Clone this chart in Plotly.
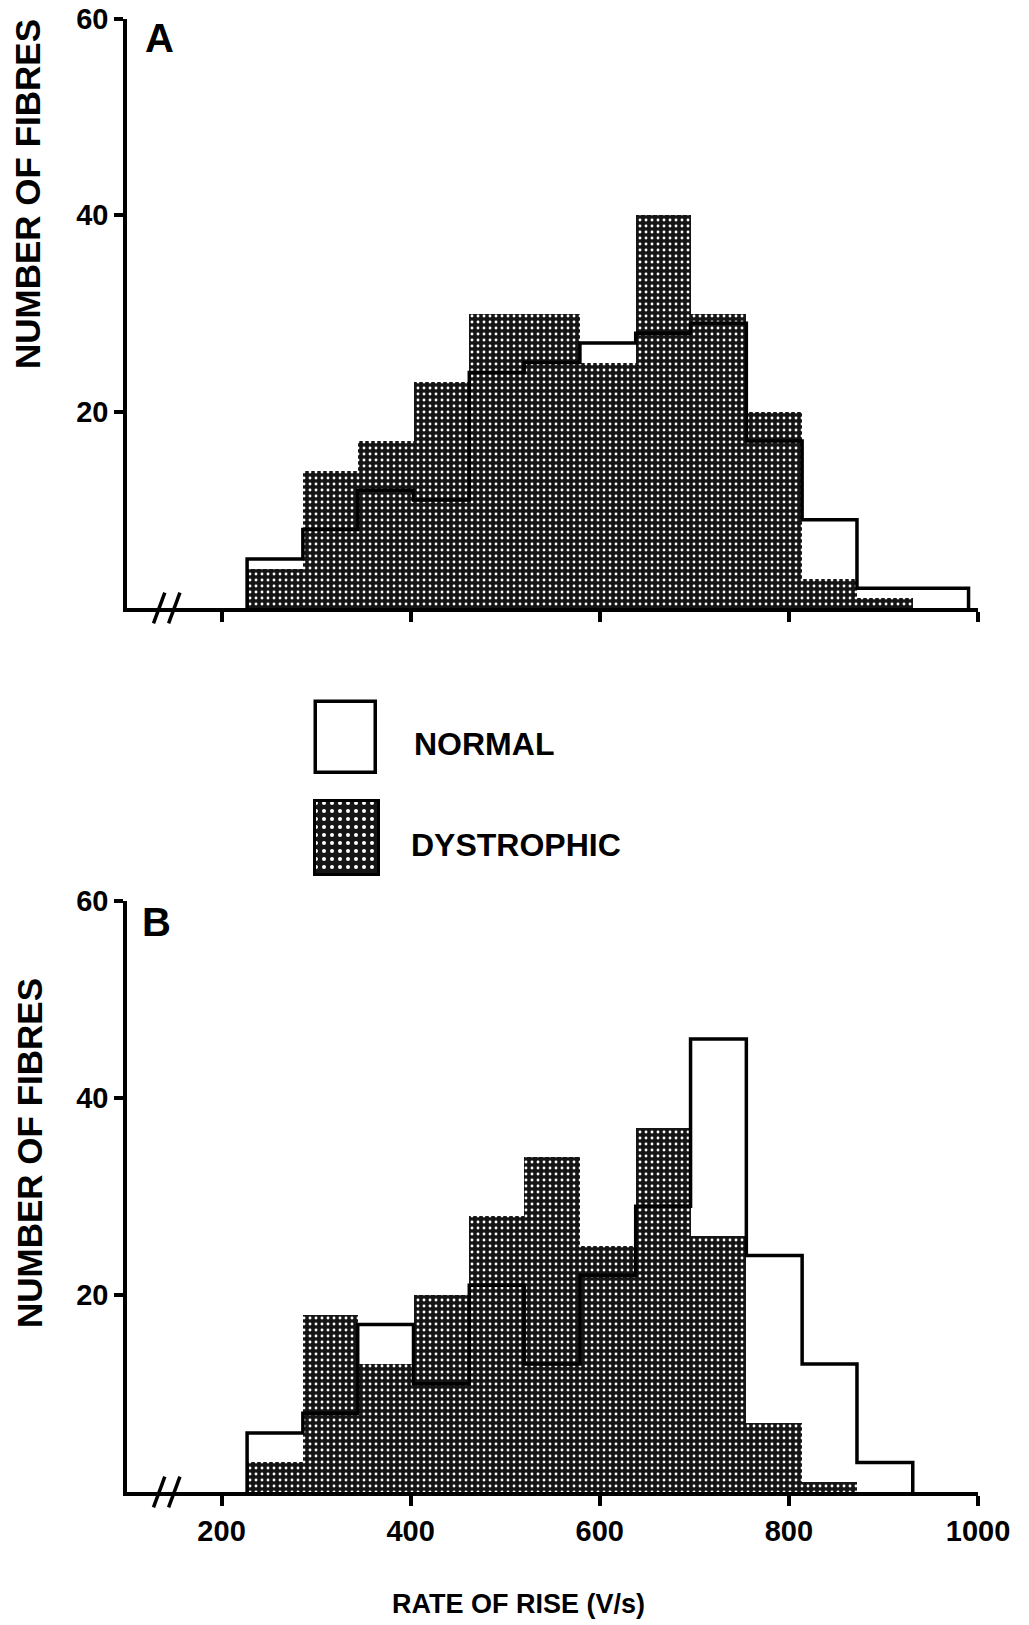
import plotly.graph_objects as go

# ---------------- data ----------------
bin_edges = [227, 286, 344, 403, 462, 520, 579, 638, 696, 755, 814, 872, 931, 990]

a_normal = [5, 8, 12, 11, 24, 25, 27, 28, 29, 17, 9, 2, 2]
a_dystrophic = [4, 14, 17, 23, 30, 30, 25, 40, 30, 20, 3, 1, 0]

b_normal = [6, 8, 17, 11, 21, 13, 22, 29, 46, 24, 13, 3]
b_dystrophic = [3, 18, 13, 20, 28, 34, 25, 37, 26, 7, 1]

x_ticks = [200, 400, 600, 800, 1000]
y_ticks = [20, 40, 60]

# ---------------- layout helpers ----------------
W, H = 1029, 1625
FONT = "Liberation Sans, Arial, sans-serif"


def px(x):
    return x / W


def py(y):
    return 1 - y / H


def step_xy(edges, counts):
    xs, ys = [edges[0]], [0]
    for i, c in enumerate(counts):
        xs += [edges[i], edges[i + 1]]
        ys += [c, c]
    xs.append(edges[len(counts)])
    ys.append(0)
    return xs, ys


def bar_geom(edges, counts):
    centers = [(edges[i] + edges[i + 1]) / 2 for i in range(len(counts))]
    widths = [edges[i + 1] - edges[i] for i in range(len(counts))]
    return centers, widths


pattern = dict(shape=".", fillmode="replace", bgcolor="#151515",
               fgcolor="#ffffff", size=6, solidity=0.18)

fig = go.Figure()

panels = [("x", "y", a_normal, a_dystrophic), ("x2", "y2", b_normal, b_dystrophic)]
for xa, ya, norm, dys in panels:
    cx, wd = bar_geom(bin_edges, dys)
    fig.add_trace(go.Bar(x=cx, y=dys, width=wd, xaxis=xa, yaxis=ya,
                         marker=dict(color="#151515", pattern=pattern,
                                     line=dict(width=0)),
                         showlegend=False, hoverinfo="skip"))
    sx, sy = step_xy(bin_edges, norm)
    fig.add_trace(go.Scatter(x=sx, y=sy, xaxis=xa, yaxis=ya, mode="lines",
                             line=dict(color="black", width=3.5),
                             showlegend=False, hoverinfo="skip"))

# legend keys
fig.add_trace(go.Bar(x=[0], y=[1], width=[1], xaxis="x3", yaxis="y3",
                     marker=dict(color="white", line=dict(color="black", width=3.5)),
                     showlegend=False, hoverinfo="skip"))
fig.add_trace(go.Bar(x=[0], y=[1], width=[1], xaxis="x4", yaxis="y4",
                     marker=dict(color="#151515",
                                 pattern=dict(shape=".", fillmode="replace",
                                              bgcolor="#151515", fgcolor="white",
                                              size=8, solidity=0.2),
                                 line=dict(color="black", width=3)),
                     showlegend=False, hoverinfo="skip"))

xdom = [px(127), px(978)]
tickfont = dict(family=FONT, size=29, color="black", weight="bold")
axis_common = dict(showline=True, linecolor="black", linewidth=3.5,
                   ticks="outside", tickcolor="black", tickwidth=3.5,
                   showgrid=False, zeroline=False, automargin=False)

fig.update_layout(
    width=W, height=H, margin=dict(l=0, r=0, t=0, b=0, pad=0, autoexpand=False),
    paper_bgcolor="white", plot_bgcolor="white",
    bargap=0, barmode="overlay", showlegend=False,
    xaxis=dict(domain=xdom, range=[100, 1000], tickvals=x_ticks,
               showticklabels=False, ticklen=10, anchor="y", **axis_common),
    yaxis=dict(domain=[py(608), py(19)], range=[0, 60], tickvals=y_ticks,
               ticklen=9, tickfont=tickfont, anchor="x", **axis_common),
    xaxis2=dict(domain=xdom, range=[100, 1000], tickvals=x_ticks,
                ticklen=10, tickfont=tickfont, anchor="y2", **axis_common),
    yaxis2=dict(domain=[py(1492), py(901)], range=[0, 60], tickvals=y_ticks,
                ticklen=9, tickfont=tickfont, anchor="x2", **axis_common),
    xaxis3=dict(domain=[px(312), px(380)], range=[-0.56, 0.56], visible=False,
                anchor="y3"),
    yaxis3=dict(domain=[py(776), py(699)], range=[-0.04, 1.04], visible=False,
                anchor="x3"),
    xaxis4=dict(domain=[px(312), px(382)], range=[-0.54, 0.54], visible=False,
                anchor="y4"),
    yaxis4=dict(domain=[py(877), py(799)], range=[-0.03, 1.03], visible=False,
                anchor="x4"),
)

# axis break marks
shapes = []
for yr in ["y domain", "y2 domain"]:
    xr = "x" if yr.startswith("y ") else "x2"
    for x0 in (128, 144):
        shapes.append(dict(type="line", xref=xr, yref=yr,
                           x0=x0, x1=x0 + 12, y0=-0.026, y1=0.026,
                           line=dict(color="black", width=3.5)))
fig.update_layout(shapes=shapes)

big = dict(family=FONT, size=40, color="black", weight="bold")
lab = dict(family=FONT, size=32, color="black", weight="bold")
ytitle = dict(family=FONT, size=35, color="black", weight="bold")
annots = [
    dict(text="A", x=px(159), y=py(38), font=big),
    dict(text="B", x=px(156), y=py(922), font=big),
    dict(text="NUMBER OF FIBRES", x=px(27), y=py(194), textangle=-90, font=ytitle),
    dict(text="NUMBER OF FIBRES", x=px(29), y=py(1153), textangle=-90, font=ytitle),
    dict(text="RATE OF RISE (V/s)", x=px(518), y=py(1604),
         font=dict(family=FONT, size=27, color="black", weight="bold")),
    dict(text="NORMAL", x=px(412), y=py(744), xanchor="left", font=lab),
    dict(text="DYSTROPHIC", x=px(409), y=py(845), xanchor="left", font=lab),
]
for a in annots:
    a.setdefault("xanchor", "center")
    a.update(xref="paper", yref="paper", yanchor="middle", showarrow=False)
fig.update_layout(annotations=annots)

fig.write_html("out.html", config={"displayModeBar": False},
               post_script="document.body.style.margin='0';"
                           "document.documentElement.style.overflow='hidden';")
